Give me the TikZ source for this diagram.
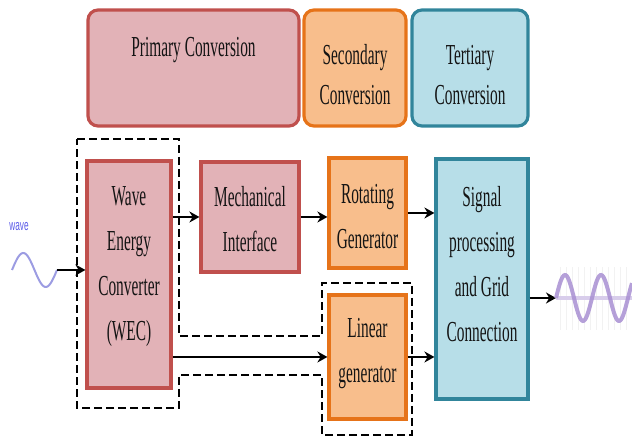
\documentclass[tikz,border=0pt]{standalone}
\usepackage{fontspec}
\setmainfont[FakeStretch=0.53]{Liberation Serif}
\setsansfont[FakeStretch=0.55]{Liberation Sans}
\usetikzlibrary{arrows.meta}

\definecolor{primfill}{HTML}{E2B2B7}
\definecolor{primline}{HTML}{C0504D}
\definecolor{secfill}{HTML}{F8BE8C}
\definecolor{secline}{HTML}{E67319}
\definecolor{terfill}{HTML}{B7DEE8}
\definecolor{terline}{HTML}{31859B}
\definecolor{wavein}{HTML}{9C9CE2}
\definecolor{waveout}{HTML}{A88FD2}
\definecolor{wavetag}{HTML}{5A5AE8}

\begin{document}
\begin{tikzpicture}[x=0.5pt,y=0.5pt,
  stage/.style={draw,rounded corners=5pt,line width=1.6pt,minimum height=58pt},
  unit/.style={draw,line width=1.6pt},
  txt/.style={align=center,text=black!92,font=\fontsize{14.5}{22.5}\selectfont},
  flow/.style={-{Stealth[length=5pt,width=5.5pt]},line width=1pt},
  frame/.style={dash pattern=on 4pt off 2pt,line width=1pt}]
\useasboundingbox (0,0) rectangle (632,437);

% conversion stages
\node[stage,draw=primline,fill=primfill,minimum width=105.5pt] (primary) at (193.5,369) {};
\node[txt] (primary-text) at (193.5,387) {Primary Conversion};
\node[stage,draw=secline,fill=secfill,minimum width=51pt] (secondary) at (355,369) {};
\node[txt,font=\fontsize{14.5}{20}\selectfont] (secondary-text) at (355,362) {Secondary\\Conversion};
\node[stage,draw=terline,fill=terfill,minimum width=58pt] (tertiary) at (470,369) {};
\node[txt,font=\fontsize{14.5}{20}\selectfont] (tertiary-text) at (470,362) {Tertiary\\Conversion};

% dashed outline round the direct-drive path
\draw[frame] (77,298) -- (179,298) -- (179,101) -- (322,101) -- (322,154)
  -- (412,154) -- (412,2) -- (322,2) -- (322,62) -- (179,62) -- (179,29)
  -- (77,29) -- cycle;

% WEC
\node[unit,draw=primline,fill=primfill,minimum width=42pt,minimum height=113.5pt] (wec) at (129,162.5) {};
\node[txt] (wec-text) at (129,170) {Wave\\Energy\\Converter\\(WEC)};

% Mechanical interface
\node[unit,draw=primline,fill=primfill,minimum width=49pt,minimum height=55pt] (mech) at (250,220) {};
\node[txt] (mech-text) at (250,218) {Mechanical\\Interface};

% Generators
\node[unit,draw=secline,fill=secfill,minimum width=38.5pt,minimum height=55pt] (rot) at (367.5,224) {};
\node[txt] (rot-text) at (367.5,220) {Rotating\\Generator};
\node[unit,draw=secline,fill=secfill,minimum width=38.5pt,minimum height=62pt] (lin) at (367.5,80) {};
\node[txt] (lin-text) at (367.5,83) {Linear\\generator};

% Grid side
\node[unit,draw=terline,fill=terfill,minimum width=46pt,minimum height=120pt] (sig) at (482,158) {};
\node[txt] (sig-text) at (482,173) {Signal\\processing\\and Grid\\Connection};

% incoming wave
\node[font=\sffamily\fontsize{7.5}{9}\selectfont,text=wavetag] (wave-tag) at (19,210) {wave};
\draw[wavein,line width=1pt] plot[domain=12:57,samples=50] (\x,{167+17*sin(8*(\x-12))});
\coordinate (wave-in) at (57,167);

% power flow
\draw[flow] (wave-in) -- (wave-in -| wec.west);
\draw[flow] (wec.east |- mech.west) -- (mech.west);
\draw[flow] (mech.east) -- (mech.east -| rot.west);
\draw[flow] (rot.east) -- (rot.east -| sig.west);
\draw[flow] (wec.east |- lin.west) -- (lin.west);
\draw[flow] (lin.east) -- (lin.east -| sig.west);
\coordinate (wave-out) at (556,139);
\draw[flow] (sig.east |- wave-out) -- (wave-out);

% grid output
\foreach \x in {560,566,...,632}
  \draw[black!5,line width=0.4pt] (\x,107) -- (\x,170);
\draw[waveout!45,line width=2pt] (wave-out) -- (632,139);
\draw[waveout,line width=2pt,opacity=0.85] plot[domain=556:632,samples=80] (\x,{139+23*sin(10*(\x-556))});
\end{tikzpicture}
\end{document}
